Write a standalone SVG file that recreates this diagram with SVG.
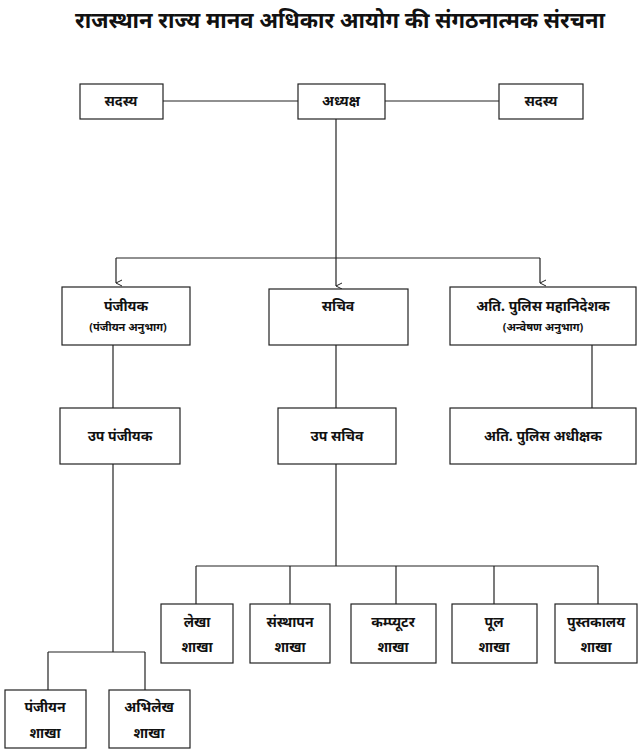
<svg xmlns="http://www.w3.org/2000/svg" width="642" height="754" viewBox="0 0 642 754">
<defs><marker id="a" markerWidth="8" markerHeight="8" refX="4" refY="7" orient="auto-start-reverse" markerUnits="userSpaceOnUse"><path d="M1,1 L4,7 L7,1" fill="none" stroke="#222" stroke-width="1"/></marker></defs>
<style>
rect{fill:#fff;stroke:#222;stroke-width:1.2}
line{stroke:#222;stroke-width:1.2}
text{font-family:"Noto Sans","Noto Sans Devanagari",sans-serif;font-size:14px;font-weight:bold;fill:#111;text-anchor:middle}
.s{font-size:11px}
.t{font-size:22px}
</style>
<rect x="0" y="0" width="642" height="754" style="stroke:none"/>
<text class="t" x="340" y="28">राजस्थान राज्य मानव अधिकार आयोग की संगठनात्मक संरचना</text>
<g id="connectors">
<line x1="163" y1="101" x2="298" y2="101"/><line x1="385" y1="101" x2="499" y2="101"/>
<line x1="336" y1="119" x2="336" y2="258"/><line x1="116" y1="258" x2="540" y2="258"/>
<line x1="116" y1="258" x2="116" y2="283" marker-end="url(#a)"/>
<line x1="336" y1="258" x2="336" y2="286" marker-end="url(#a)"/>
<line x1="540" y1="258" x2="540" y2="283" marker-end="url(#a)"/>
<line x1="113" y1="345" x2="113" y2="408"/><line x1="336" y1="345" x2="336" y2="408"/><line x1="592" y1="345" x2="592" y2="408"/>
<line x1="336" y1="464" x2="336" y2="566"/><line x1="196" y1="566" x2="598" y2="566"/>
<line x1="196" y1="566" x2="196" y2="604"/><line x1="290" y1="566" x2="290" y2="604"/><line x1="396" y1="566" x2="396" y2="604"/><line x1="494" y1="566" x2="494" y2="604"/><line x1="598" y1="566" x2="598" y2="604"/>
<line x1="113" y1="464" x2="113" y2="652"/><line x1="48" y1="652" x2="145" y2="652"/>
<line x1="48" y1="652" x2="48" y2="690"/><line x1="145" y1="652" x2="145" y2="690"/>
</g>
<g id="n1"><rect x="80" y="84" width="83" height="35"/><text x="121" y="106">सदस्य</text></g>
<g id="n2"><rect x="298" y="84" width="87" height="35"/><text x="341" y="106">अध्यक्ष</text></g>
<g id="n3"><rect x="499" y="84" width="84" height="35"/><text x="541" y="106">सदस्य</text></g>
<g id="n4"><rect x="62" y="287" width="128" height="58"/><text x="126" y="311">पंजीयक</text><text class="s" x="128" y="331">(पंजीयन अनुभाग)</text></g>
<g id="n5"><rect x="269" y="289" width="139" height="56"/><text x="338" y="311">सचिव</text></g>
<g id="n6"><rect x="450" y="287" width="186" height="58"/><text x="543" y="311">अति. पुलिस महानिदेशक</text><text class="s" x="543" y="331">(अन्वेषण अनुभाग)</text></g>
<g id="n7"><rect x="60" y="408" width="120" height="56"/><text x="120" y="441">उप पंजीयक</text></g>
<g id="n8"><rect x="278" y="408" width="118" height="56"/><text x="337" y="441">उप सचिव</text></g>
<g id="n9"><rect x="450" y="408" width="186" height="56"/><text x="543" y="441">अति. पुलिस अधीक्षक</text></g>
<g id="n10"><rect x="161" y="604" width="72" height="59"/><text x="197" y="627">लेखा</text><text x="197" y="652">शाखा</text></g>
<g id="n11"><rect x="250" y="604" width="80" height="59"/><text x="290" y="627">संस्थापन</text><text x="290" y="652">शाखा</text></g>
<g id="n12"><rect x="351" y="604" width="85" height="59"/><text x="393" y="627">कम्प्यूटर</text><text x="393" y="652">शाखा</text></g>
<g id="n13"><rect x="452" y="604" width="85" height="59"/><text x="494" y="627">पूल</text><text x="494" y="652">शाखा</text></g>
<g id="n14"><rect x="555" y="604" width="82" height="59"/><text x="596" y="627">पुस्तकालय</text><text x="596" y="652">शाखा</text></g>
<g id="n15"><rect x="5" y="690" width="81" height="58"/><text x="45" y="712">पंजीयन</text><text x="45" y="738">शाखा</text></g>
<g id="n16"><rect x="109" y="690" width="81" height="58"/><text x="149" y="712">अभिलेख</text><text x="149" y="738">शाखा</text></g>
</svg>
